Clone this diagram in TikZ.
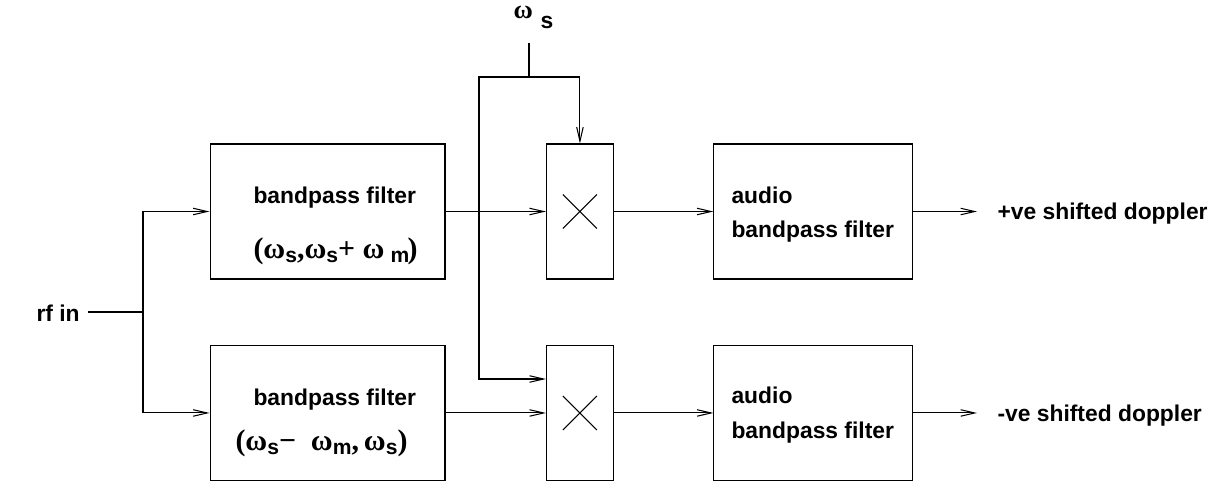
\documentclass[tikz,border=0pt]{standalone}
\usepackage{fontspec}
\setmainfont{Liberation Sans}
\newfontfamily\grk{Liberation Serif}
\usetikzlibrary{arrows.meta}
\newcommand{\gk}[1]{{\grk\fontsize{17}{17}\selectfont #1}}
\newcommand{\sub}[1]{\raisebox{-2.5pt}{\fontsize{12}{12}\selectfont #1}}

\begin{document}
\begin{tikzpicture}[x=0.02cm, y=-0.02cm, line width=0.6pt,
  >={Straight Barb[length=0.28cm,width=0.13cm]},
  block/.style={rectangle, draw, minimum width=4.7cm, minimum height=2.7cm},
  audiobox/.style={rectangle, draw, minimum width=3.98cm, minimum height=2.7cm},
  mixer/.style={rectangle, draw, minimum width=1.34cm, minimum height=2.7cm,
    path picture={\draw (path picture bounding box.center) ++(-0.34cm,-0.34cm) -- ++(0.68cm,0.68cm)
                        (path picture bounding box.center) ++(-0.34cm,0.34cm) -- ++(0.68cm,-0.68cm);}},
  txt/.style={inner sep=0pt, anchor=base west, font=\fontsize{13}{15}\selectfont\bfseries}]

  \useasboundingbox (0,0) rectangle (1229,484);

  % blocks
  \node[block] (bp1) at (327.5,211.5) {};
  \node[mixer] (mix1) [right of=bp1, node distance=5.05cm] {};
  \node[audiobox] (aud1) [right of=mix1, node distance=4.67cm] {};
  \node[block] (bp2) [below of=bp1, node distance=4.03cm] {};
  \node[mixer] (mix2) [below of=mix1, node distance=4.03cm] {};
  \node[audiobox] (aud2) [below of=aud1, node distance=4.03cm] {};

  % texts
  \node[txt] (bp1a) at (253,203) {bandpass filter};
  \node[txt] (bp1b) at (253,258) {\gk{(ω}\sub{s}\gk{,ω}\sub{s}\gk{+ ω}\ \sub{m}\hspace{-1pt}\gk{)}};
  \node[txt] (bp2a) at (253,405) {bandpass filter};
  \node[txt] (bp2b) at (235,450) {\gk{(ω}\sub{s}\gk{−\ \ ω}\sub{m}\gk{,\,ω}\sub{s}\gk{)}};
  \node[txt] (aud1a) at (731,203) {audio};
  \node[txt] (aud1b) at (731,237) {bandpass filter};
  \node[txt] (aud2a) at (731,403) {audio};
  \node[txt] (aud2b) at (731,438) {bandpass filter};
  \node[txt] (out1) at (997,219) {+ve shifted doppler};
  \node[txt] (out2) at (997,421) {-ve shifted doppler};
  \node[txt] (rfin) at (36,321) {rf in};
  \node[txt] (ws) at (513,18) {{\grk\fontsize{15}{15}\selectfont ω}\hspace{4.5pt}\raisebox{-5.7pt}{s}};

  \coordinate (rsplit) at (143,312);
  \coordinate (wtop) at (529,43);
  \coordinate (wsplit) at (529,77);
  \coordinate (wlow) at (479,379);

  % connections
  \draw[shorten <=0.16cm] (rfin.east |- rsplit) -- (rsplit);
  \draw[->] (rsplit) |- (bp1.west);
  \draw[->] (rsplit) |- (bp2.west);
  \draw[->] (bp1) -- (mix1);
  \draw[->] (bp2) -- (mix2);
  \draw[->] (mix1) -- (aud1);
  \draw[->] (mix2) -- (aud2);
  \draw[->, shorten >=0.4cm] (aud1.east) -- (aud1.east -| out1.west);
  \draw[->, shorten >=0.4cm] (aud2.east) -- (aud2.east -| out2.west);
  \draw (wtop) -- (wsplit);
  \draw[->] (wsplit) -| (mix1.north);
  \draw[->] (wsplit) -| (wlow) -- (mix2.west |- wlow);

\end{tikzpicture}
\end{document}
